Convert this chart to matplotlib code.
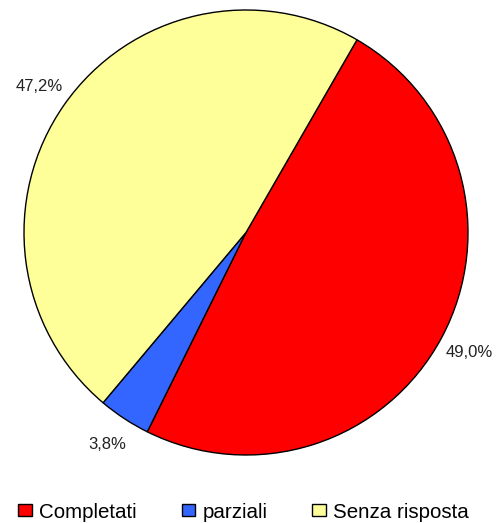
import matplotlib.pyplot as plt
import numpy as np

labels = ['Completati', 'parziali', 'Senza risposta']
values = [49.0, 3.8, 47.2]
colors = ['#FF0000', '#3366FF', '#FFFF99']

plt.rcParams['font.family'] = ['Liberation Sans', 'DejaVu Sans']

fig = plt.figure(figsize=(4.97, 5.23), dpi=100)
ax = fig.add_axes([24 / 497, 68 / 523, 444 / 497, 445 / 523])

wedges, texts, autotexts = ax.pie(
    values, colors=colors, startangle=60, counterclock=False,
    autopct=lambda p: ('%.1f%%' % p).replace('.', ','),
    pctdistance=1.14,
    wedgeprops=dict(edgecolor='black', linewidth=1.0),
    textprops=dict(fontsize=12, color='#222222'))

ax.set_xlim(-1, 1)
ax.set_ylim(-1, 1)
ax.set_aspect('auto')

fig.legend(wedges, labels, loc='center', bbox_to_anchor=(0.49, 0.021),
           ncol=3, frameon=False, fontsize=14.8, handlelength=0.65,
           handleheight=0.55, handletextpad=0.35, columnspacing=2.2,
           borderaxespad=0, borderpad=0)

fig.savefig('out.png', dpi=100)
